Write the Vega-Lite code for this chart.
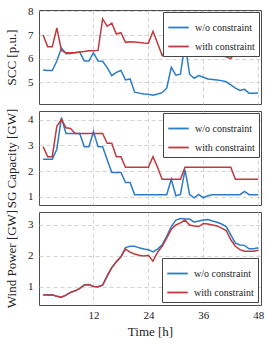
{
  "$schema": "https://vega.github.io/schema/vega-lite/v6.json",
  "padding": {"left": 5, "top": 4, "right": 5, "bottom": 2},
  "spacing": 7,
  "bounds": "flush",
  "datasets": {
    "scc": [
      {"h":1,"w/o constraint":5.52,"with constraint":7.0},
      {"h":2,"w/o constraint":5.5,"with constraint":6.5},
      {"h":3,"w/o constraint":5.5,"with constraint":6.5},
      {"h":4,"w/o constraint":5.9,"with constraint":7.3},
      {"h":5,"w/o constraint":6.45,"with constraint":6.35},
      {"h":6,"w/o constraint":6.21,"with constraint":6.25},
      {"h":7,"w/o constraint":6.22,"with constraint":6.25},
      {"h":8,"w/o constraint":6.25,"with constraint":6.26},
      {"h":9,"w/o constraint":6.28,"with constraint":6.28},
      {"h":10,"w/o constraint":5.9,"with constraint":6.3},
      {"h":11,"w/o constraint":5.9,"with constraint":6.33},
      {"h":12,"w/o constraint":6.25,"with constraint":6.33},
      {"h":13,"w/o constraint":5.9,"with constraint":6.35},
      {"h":14,"w/o constraint":5.89,"with constraint":7.68},
      {"h":15,"w/o constraint":5.62,"with constraint":7.37},
      {"h":16,"w/o constraint":5.28,"with constraint":7.5},
      {"h":17,"w/o constraint":5.42,"with constraint":7.04},
      {"h":18,"w/o constraint":5.5,"with constraint":7.1},
      {"h":19,"w/o constraint":5.1,"with constraint":6.69},
      {"h":20,"w/o constraint":5.14,"with constraint":6.72},
      {"h":21,"w/o constraint":4.58,"with constraint":6.7},
      {"h":22,"w/o constraint":4.54,"with constraint":6.68},
      {"h":23,"w/o constraint":4.5,"with constraint":6.66},
      {"h":24,"w/o constraint":4.49,"with constraint":6.65},
      {"h":25,"w/o constraint":4.45,"with constraint":7.16},
      {"h":26,"w/o constraint":4.5,"with constraint":6.65},
      {"h":27,"w/o constraint":4.56,"with constraint":6.13},
      {"h":28,"w/o constraint":4.75,"with constraint":6.37},
      {"h":29,"w/o constraint":5.63,"with constraint":6.54},
      {"h":30,"w/o constraint":5.3,"with constraint":6.68},
      {"h":31,"w/o constraint":5.34,"with constraint":6.76},
      {"h":32,"w/o constraint":6.65,"with constraint":6.18},
      {"h":33,"w/o constraint":5.34,"with constraint":6.13},
      {"h":34,"w/o constraint":5.17,"with constraint":6.12},
      {"h":35,"w/o constraint":5.28,"with constraint":6.12},
      {"h":36,"w/o constraint":5.21,"with constraint":6.13},
      {"h":37,"w/o constraint":5.14,"with constraint":6.14},
      {"h":38,"w/o constraint":5.12,"with constraint":6.13},
      {"h":39,"w/o constraint":5.1,"with constraint":6.12},
      {"h":40,"w/o constraint":5.07,"with constraint":6.11},
      {"h":41,"w/o constraint":5.02,"with constraint":6.08},
      {"h":42,"w/o constraint":4.89,"with constraint":6.0},
      {"h":43,"w/o constraint":4.75,"with constraint":6.3},
      {"h":44,"w/o constraint":4.65,"with constraint":6.22},
      {"h":45,"w/o constraint":4.7,"with constraint":6.17},
      {"h":46,"w/o constraint":4.54,"with constraint":6.15},
      {"h":47,"w/o constraint":4.54,"with constraint":6.13},
      {"h":48,"w/o constraint":4.55,"with constraint":6.13}
    ],
    "sg": [
      {"h":1,"w/o constraint":2.46,"with constraint":2.95},
      {"h":2,"w/o constraint":2.46,"with constraint":2.56},
      {"h":3,"w/o constraint":2.46,"with constraint":2.56},
      {"h":4,"w/o constraint":2.85,"with constraint":3.74},
      {"h":5,"w/o constraint":4.08,"with constraint":4.0},
      {"h":6,"w/o constraint":3.46,"with constraint":3.68},
      {"h":7,"w/o constraint":3.46,"with constraint":3.65},
      {"h":8,"w/o constraint":3.46,"with constraint":3.46},
      {"h":9,"w/o constraint":3.46,"with constraint":3.46},
      {"h":10,"w/o constraint":2.95,"with constraint":3.46},
      {"h":11,"w/o constraint":2.95,"with constraint":3.46},
      {"h":12,"w/o constraint":3.53,"with constraint":3.46},
      {"h":13,"w/o constraint":2.95,"with constraint":3.46},
      {"h":14,"w/o constraint":2.95,"with constraint":3.46},
      {"h":15,"w/o constraint":2.44,"with constraint":3.08},
      {"h":16,"w/o constraint":1.95,"with constraint":3.08},
      {"h":17,"w/o constraint":1.95,"with constraint":2.56},
      {"h":18,"w/o constraint":1.95,"with constraint":2.56},
      {"h":19,"w/o constraint":1.56,"with constraint":2.15},
      {"h":20,"w/o constraint":1.56,"with constraint":2.15},
      {"h":21,"w/o constraint":1.09,"with constraint":2.15},
      {"h":22,"w/o constraint":1.09,"with constraint":2.15},
      {"h":23,"w/o constraint":1.09,"with constraint":2.15},
      {"h":24,"w/o constraint":1.09,"with constraint":2.15},
      {"h":25,"w/o constraint":1.09,"with constraint":2.56},
      {"h":26,"w/o constraint":1.09,"with constraint":2.15},
      {"h":27,"w/o constraint":1.09,"with constraint":1.69},
      {"h":28,"w/o constraint":1.09,"with constraint":1.69},
      {"h":29,"w/o constraint":1.69,"with constraint":1.69},
      {"h":30,"w/o constraint":1.05,"with constraint":1.69},
      {"h":31,"w/o constraint":1.1,"with constraint":1.69},
      {"h":32,"w/o constraint":2.05,"with constraint":2.15},
      {"h":33,"w/o constraint":1.09,"with constraint":2.15},
      {"h":34,"w/o constraint":0.97,"with constraint":2.15},
      {"h":35,"w/o constraint":1.1,"with constraint":2.15},
      {"h":36,"w/o constraint":0.97,"with constraint":2.15},
      {"h":37,"w/o constraint":1.05,"with constraint":2.15},
      {"h":38,"w/o constraint":1.09,"with constraint":2.15},
      {"h":39,"w/o constraint":1.09,"with constraint":2.15},
      {"h":40,"w/o constraint":1.09,"with constraint":2.15},
      {"h":41,"w/o constraint":1.09,"with constraint":2.15},
      {"h":42,"w/o constraint":1.09,"with constraint":2.15},
      {"h":43,"w/o constraint":1.09,"with constraint":1.69},
      {"h":44,"w/o constraint":1.09,"with constraint":1.69},
      {"h":45,"w/o constraint":1.22,"with constraint":1.69},
      {"h":46,"w/o constraint":1.09,"with constraint":1.69},
      {"h":47,"w/o constraint":1.09,"with constraint":1.69},
      {"h":48,"w/o constraint":1.09,"with constraint":1.69}
    ],
    "wind": [
      {"h":1,"w/o constraint":0.74,"with constraint":0.74},
      {"h":2,"w/o constraint":0.73,"with constraint":0.73},
      {"h":3,"w/o constraint":0.74,"with constraint":0.74},
      {"h":4,"w/o constraint":0.69,"with constraint":0.69},
      {"h":5,"w/o constraint":0.66,"with constraint":0.66},
      {"h":6,"w/o constraint":0.73,"with constraint":0.73},
      {"h":7,"w/o constraint":0.82,"with constraint":0.82},
      {"h":8,"w/o constraint":0.87,"with constraint":0.87},
      {"h":9,"w/o constraint":0.95,"with constraint":0.95},
      {"h":10,"w/o constraint":1.06,"with constraint":1.06},
      {"h":11,"w/o constraint":1.07,"with constraint":1.07},
      {"h":12,"w/o constraint":1.01,"with constraint":1.01},
      {"h":13,"w/o constraint":1.0,"with constraint":1.0},
      {"h":14,"w/o constraint":1.05,"with constraint":1.05},
      {"h":15,"w/o constraint":1.35,"with constraint":1.35},
      {"h":16,"w/o constraint":1.62,"with constraint":1.62},
      {"h":17,"w/o constraint":1.81,"with constraint":1.81},
      {"h":18,"w/o constraint":1.97,"with constraint":1.97},
      {"h":19,"w/o constraint":2.27,"with constraint":2.22},
      {"h":20,"w/o constraint":2.31,"with constraint":2.12},
      {"h":21,"w/o constraint":2.31,"with constraint":2.06},
      {"h":22,"w/o constraint":2.26,"with constraint":2.02},
      {"h":23,"w/o constraint":2.22,"with constraint":2.0},
      {"h":24,"w/o constraint":2.2,"with constraint":2.02},
      {"h":25,"w/o constraint":2.13,"with constraint":1.83},
      {"h":26,"w/o constraint":2.22,"with constraint":2.12},
      {"h":27,"w/o constraint":2.36,"with constraint":2.31},
      {"h":28,"w/o constraint":2.63,"with constraint":2.57},
      {"h":29,"w/o constraint":2.95,"with constraint":2.86},
      {"h":30,"w/o constraint":3.16,"with constraint":3.0},
      {"h":31,"w/o constraint":3.21,"with constraint":3.07},
      {"h":32,"w/o constraint":3.19,"with constraint":3.16},
      {"h":33,"w/o constraint":3.19,"with constraint":3.0},
      {"h":34,"w/o constraint":3.09,"with constraint":2.97},
      {"h":35,"w/o constraint":3.13,"with constraint":2.95},
      {"h":36,"w/o constraint":3.16,"with constraint":3.05},
      {"h":37,"w/o constraint":3.18,"with constraint":3.03},
      {"h":38,"w/o constraint":3.13,"with constraint":3.0},
      {"h":39,"w/o constraint":3.09,"with constraint":2.97},
      {"h":40,"w/o constraint":3.03,"with constraint":2.9},
      {"h":41,"w/o constraint":2.95,"with constraint":2.82},
      {"h":42,"w/o constraint":2.68,"with constraint":2.52},
      {"h":43,"w/o constraint":2.41,"with constraint":2.31},
      {"h":44,"w/o constraint":2.35,"with constraint":2.2},
      {"h":45,"w/o constraint":2.34,"with constraint":2.15},
      {"h":46,"w/o constraint":2.23,"with constraint":2.15},
      {"h":47,"w/o constraint":2.23,"with constraint":2.15},
      {"h":48,"w/o constraint":2.26,"with constraint":2.18}
    ]
  },
  "vconcat": [
    {
      "width": 222, "height": 94,
      "data": {"name": "scc"},
      "transform": [{"fold": ["w/o constraint", "with constraint"], "as": ["series", "value"]}],
      "mark": {"type": "line", "strokeWidth": 1.5},
      "encoding": {
        "x": {"field": "h", "type": "quantitative", "scale": {"domain": [0.1, 48.6], "nice": false, "zero": false},
              "axis": {"values": [12, 24, 36, 48], "labels": false, "title": null, "labelPadding": 0}},
        "y": {"field": "value", "type": "quantitative", "scale": {"domain": [4.08, 8.06], "nice": false, "zero": false},
              "axis": {"values": [5, 6, 7, 8], "title": "SCC [p.u.]"}},
        "color": {"field": "series", "type": "nominal",
                  "scale": {"domain": ["w/o constraint", "with constraint"], "range": ["#2a7cc7", "#c0393d"]},
                  "legend": {"orient": "top-right", "offset": 2}}
      }
    },
    {
      "width": 222, "height": 94,
      "data": {"name": "sg"},
      "transform": [{"fold": ["w/o constraint", "with constraint"], "as": ["series", "value"]}],
      "mark": {"type": "line", "strokeWidth": 1.5},
      "encoding": {
        "x": {"field": "h", "type": "quantitative", "scale": {"domain": [0.1, 48.6], "nice": false, "zero": false},
              "axis": {"values": [12, 24, 36, 48], "labels": false, "title": null, "labelPadding": 0}},
        "y": {"field": "value", "type": "quantitative", "scale": {"domain": [0.69, 4.33], "nice": false, "zero": false},
              "axis": {"values": [1, 2, 3, 4], "title": "SG Capacity [GW]"}},
        "color": {"field": "series", "type": "nominal",
                  "scale": {"domain": ["w/o constraint", "with constraint"], "range": ["#2a7cc7", "#c0393d"]},
                  "legend": {"orient": "top-right", "offset": 2}}
      }
    },
    {
      "width": 222, "height": 93,
      "data": {"name": "wind"},
      "transform": [{"fold": ["w/o constraint", "with constraint"], "as": ["series", "value"]}],
      "mark": {"type": "line", "strokeWidth": 1.5},
      "encoding": {
        "x": {"field": "h", "type": "quantitative", "scale": {"domain": [0.1, 48.6], "nice": false, "zero": false},
              "axis": {"values": [12, 24, 36, 48], "title": "Time [h]", "labelPadding": 4, "titlePadding": 5}},
        "y": {"field": "value", "type": "quantitative", "scale": {"domain": [0.41, 3.42], "nice": false, "zero": false},
              "axis": {"values": [1, 2, 3], "title": "Wind Power [GW]"}},
        "color": {"field": "series", "type": "nominal",
                  "scale": {"domain": ["w/o constraint", "with constraint"], "range": ["#2a7cc7", "#c0393d"]},
                  "legend": {"orient": "bottom-right", "offset": 3}}
      }
    }
  ],
  "resolve": {"scale": {"color": "independent"}, "legend": {"color": "independent"}},
  "config": {
    "view": {"stroke": "#4d4d4d", "strokeWidth": 1},
    "axis": {
      "grid": true, "gridDash": [4, 3], "gridColor": "#c8c8c8", "gridWidth": 0.8,
      "domain": false, "ticks": false, "tickSize": 0,
      "labelFont": "Liberation Serif", "labelFontSize": 11, "labelColor": "#222", "labelPadding": 6,
      "titleFont": "Liberation Serif", "titleFontSize": 13, "titleFontWeight": "normal", "titleColor": "#222", "titlePadding": 9
    },
    "legend": {
      "title": null, "strokeColor": "#444", "fillColor": "white", "padding": 4,
      "symbolType": "stroke", "symbolSize": 420, "symbolStrokeWidth": 1.8,
      "labelFont": "Liberation Serif", "labelFontSize": 10, "labelColor": "#222",
      "rowPadding": 2, "labelOffset": 5, "cornerRadius": 0
    }
  }
}
